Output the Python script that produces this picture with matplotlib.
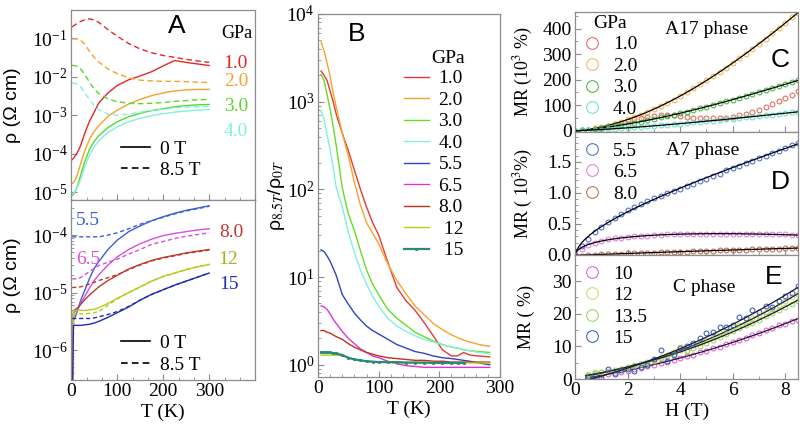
#! /usr/bin/env python3

## Libraries
import numpy as np
import matplotlib
matplotlib.use('Agg')
import matplotlib.pyplot as plt
from matplotlib.lines import Line2D
from matplotlib.ticker import MultipleLocator, AutoMinorLocator, LogLocator

plt.rcParams['font.family'] = ['Liberation Serif', 'DejaVu Serif']
plt.rcParams['mathtext.fontset'] = 'stix'
plt.rcParams['axes.edgecolor'] = '#8c8c8c'
plt.rcParams['axes.linewidth'] = 0.9
for ax_ in ('xtick', 'ytick'):
    plt.rcParams[ax_ + '.direction'] = 'in'
    plt.rcParams[ax_ + '.color'] = '#8c8c8c'
    plt.rcParams[ax_ + '.labelcolor'] = 'black'
    plt.rcParams[ax_ + '.labelsize'] = 14
    plt.rcParams[ax_ + '.major.size'] = 4
    plt.rcParams[ax_ + '.minor.size'] = 2
    plt.rcParams[ax_ + '.major.pad'] = 2.5

#-----------------------------------------------------------------------
## Data
# Panel A : log10 rho (Ohm cm) vs T (K)
T_A = [2, 5, 10, 15, 20, 30, 40, 50, 60, 80, 100, 125, 150, 175, 200, 225, 250, 275, 300]

# low pressure (top): 1.0, 2.0, 3.0, 4.0 GPa
rA_10_0T  = [-4.15, -4.12, -4.03, -3.93, -3.80, -3.45, -3.15, -2.92, -2.68, -2.42, -2.23, -2.08, -1.98, -1.87, -1.72, -1.58, -1.63, -1.67, -1.71]
rA_10_8T  = [-0.71, -0.68, -0.64, -0.60, -0.57, -0.52, -0.50, -0.53, -0.59, -0.78, -0.95, -1.14, -1.28, -1.38, -1.45, -1.50, -1.55, -1.59, -1.63]
rA_20_0T  = [-4.77, -4.75, -4.65, -4.48, -4.28, -3.90, -3.62, -3.42, -3.27, -3.03, -2.87, -2.71, -2.59, -2.49, -2.42, -2.37, -2.34, -2.33, -2.33]
rA_20_8T  = [-1.02, -1.02, -1.02, -1.03, -1.05, -1.16, -1.35, -1.50, -1.62, -1.80, -1.92, -2.03, -2.09, -2.11, -2.12, -2.12, -2.13, -2.14, -2.15]
rA_30_0T  = [-5.08, -5.05, -4.95, -4.78, -4.58, -4.18, -3.88, -3.68, -3.53, -3.32, -3.17, -3.04, -2.95, -2.88, -2.83, -2.78, -2.75, -2.73, -2.72]
rA_30_8T  = [-1.70, -1.71, -1.72, -1.75, -1.79, -1.95, -2.15, -2.32, -2.44, -2.58, -2.65, -2.69, -2.70, -2.69, -2.67, -2.64, -2.62, -2.60, -2.59]
rA_40_0T  = [-5.04, -5.02, -4.95, -4.82, -4.68, -4.32, -4.02, -3.82, -3.66, -3.45, -3.30, -3.17, -3.08, -3.01, -2.96, -2.92, -2.89, -2.87, -2.85]
rA_40_8T  = [-2.17, -2.17, -2.18, -2.21, -2.26, -2.42, -2.60, -2.75, -2.86, -2.97, -3.00, -2.97, -2.92, -2.88, -2.84, -2.81, -2.79, -2.78, -2.77]

# high pressure (bottom): 5.5, 6.5, 8.0, 12, 15 GPa
rA_55_0T  = [-7, -5.48, -5.40, -5.28, -5.15, -4.95, -4.75, -4.58, -4.46, -4.25, -4.09, -3.94, -3.84, -3.75, -3.68, -3.62, -3.57, -3.53, -3.49]
rA_55_8T  = [-4.03, -4.03, -4.03, -4.03, -4.03, -4.03, -4.03, -4.03, -4.03, -4.00, -3.96, -3.89, -3.81, -3.75, -3.69, -3.63, -3.58, -3.54, -3.50]
rA_65_0T  = [-7, -5.35, -5.32, -5.27, -5.20, -5.06, -4.92, -4.79, -4.69, -4.52, -4.38, -4.25, -4.15, -4.07, -4.01, -3.97, -3.94, -3.91, -3.89]
rA_65_8T  = [-4.76, -4.76, -4.76, -4.75, -4.74, -4.69, -4.63, -4.58, -4.53, -4.47, -4.42, -4.33, -4.25, -4.16, -4.11, -4.06, -4.02, -3.99, -3.96]
rA_80_0T  = [-7, -5.31, -5.29, -5.26, -5.21, -5.12, -5.04, -4.97, -4.90, -4.79, -4.70, -4.59, -4.51, -4.44, -4.39, -4.35, -4.31, -4.28, -4.25]
rA_80_8T  = [-4.91, -4.91, -4.91, -4.91, -4.90, -4.88, -4.85, -4.82, -4.79, -4.74, -4.69, -4.60, -4.52, -4.45, -4.40, -4.36, -4.32, -4.29, -4.26]
rA_12_0T  = [-7, -5.31, -5.31, -5.31, -5.31, -5.31, -5.30, -5.29, -5.26, -5.19, -5.10, -5.00, -4.90, -4.80, -4.72, -4.66, -4.60, -4.55, -4.51]
rA_12_8T  = [-5.37, -5.37, -5.37, -5.37, -5.37, -5.37, -5.36, -5.35, -5.33, -5.22, -5.11, -5.00, -4.90, -4.80, -4.72, -4.66, -4.60, -4.55, -4.51]
rA_15_0T  = [-7, -5.57, -5.57, -5.57, -5.57, -5.56, -5.55, -5.53, -5.50, -5.43, -5.35, -5.25, -5.13, -5.03, -4.95, -4.87, -4.80, -4.73, -4.66]
rA_15_8T  = [-5.45, -5.45, -5.45, -5.45, -5.45, -5.45, -5.45, -5.44, -5.42, -5.38, -5.33, -5.24, -5.13, -5.03, -4.95, -4.87, -4.80, -4.73, -4.66]

# Panel B : log10 (rho_8.5T / rho_0T) vs T
T_B = [5, 10, 15, 20, 25, 30, 40, 50, 60, 70, 80, 90, 100, 115, 130, 145, 160, 175, 190, 205, 220, 230, 240, 250, 265, 283]
pB_labels = ['1.0', '2.0', '3.0', '4.0', '5.5', '6.5', '8.0', ' 12', ' 15']
pB_colors = ['#e53935', '#f5a32a', '#66dd22', '#80f0e0', '#2a44c8', '#dd33dd', '#c0301c', '#b8c81c', '#2a8a78']
rB_10 = [3.35, 3.30, 3.24, 3.12, 3.00, 2.86, 2.64, 2.44, 2.22, 2.00, 1.80, 1.62, 1.48, 1.17, 0.88, 0.73, 0.62, 0.48, 0.33, 0.17, 0.10, 0.10, 0.14, 0.11, 0.10, 0.09]
rB_20 = [3.68, 3.58, 3.44, 3.29, 3.10, 2.94, 2.64, 2.38, 2.08, 1.82, 1.62, 1.50, 1.38, 1.15, 0.96, 0.81, 0.67, 0.57, 0.47, 0.40, 0.34, 0.31, 0.28, 0.26, 0.23, 0.21]
rB_30 = [3.31, 3.24, 3.08, 2.91, 2.72, 2.50, 2.02, 1.72, 1.53, 1.30, 1.08, 0.92, 0.80, 0.63, 0.53, 0.45, 0.37, 0.32, 0.27, 0.23, 0.20, 0.19, 0.17, 0.16, 0.15, 0.14]
rB_40 = [2.90, 2.80, 2.62, 2.45, 2.25, 2.02, 1.80, 1.51, 1.28, 1.08, 0.92, 0.78, 0.67, 0.53, 0.44, 0.38, 0.33, 0.29, 0.26, 0.23, 0.20, 0.19, 0.17, 0.16, 0.14, 0.12]
rB_55 = [1.31, 1.29, 1.24, 1.18, 1.10, 1.02, 0.80, 0.69, 0.59, 0.51, 0.44, 0.39, 0.35, 0.29, 0.23, 0.19, 0.15, 0.13, 0.10, 0.08, 0.07, 0.06, 0.05, 0.04, 0.02, 0.0]
rB_65 = [0.67, 0.66, 0.63, 0.58, 0.52, 0.47, 0.38, 0.30, 0.24, 0.18, 0.14, 0.10, 0.08, 0.04, 0.01, -0.01, -0.02, -0.03, -0.03, -0.03, -0.03, -0.03, -0.03, -0.03, -0.03, -0.03]
rB_80 = [0.39, 0.39, 0.37, 0.36, 0.34, 0.32, 0.29, 0.24, 0.20, 0.17, 0.14, 0.12, 0.10, 0.08, 0.07, 0.06, 0.05, 0.05, 0.04, 0.04, 0.03, 0.03, 0.03, 0.03, 0.03, 0.03]
rB_12 = [0.11, 0.11, 0.11, 0.11, 0.11, 0.11, 0.10, 0.08, 0.06, 0.05, 0.04, 0.035, 0.03, 0.025, 0.02, 0.02, 0.02, 0.02, 0.02, 0.02, 0.02, 0.02, 0.02, 0.02, 0.02, 0.02]
rB_15 = [0.14, 0.14, 0.14, 0.14, 0.13, 0.13, 0.11, 0.08, 0.06, 0.05, 0.04, 0.035, 0.03, 0.03, 0.03, 0.025, 0.025, 0.025, 0.02, 0.02, 0.02, 0.02, 0.02]

# Panel C : MR (10^3 %) vs H (T), A17 phase
H_C = np.arange(0, 8.51, 0.25)
mC_10 = [0, 1, 3, 7, 12, 18, 25, 31, 38, 44, 50, 55, 58, 61, 62, 60, 57, 53, 51, 49, 48, 48, 49, 51, 55, 60, 67, 74, 83, 93, 104, 115, 127, 140, 155]
mC_20 = [0, 1.5, 4.5, 9, 14, 20, 27, 35, 44, 53, 63, 74, 85, 97, 109, 122, 137, 151, 166, 181, 197, 213, 230, 247, 265, 283, 302, 321, 340, 360, 381, 402, 423, 444, 462]
mC_30 = [0, 1.4, 3.8, 6.6, 9.9, 13.5, 17.5, 21.7, 26, 31, 36, 41, 46, 52, 57, 63, 69, 75, 81, 88, 94, 101, 108, 115, 122, 129, 136, 143, 151, 158, 166, 174, 182, 190, 198]
mC_40 = [0, 0.8, 1.9, 3.2, 4.6, 6.1, 7.8, 9.5, 11.3, 13.2, 15.1, 17.1, 19.2, 21.3, 23.4, 25.6, 27.9, 30.2, 32.5, 34.9, 37.3, 39.7, 42.2, 44.7, 47.2, 49.8, 52.4, 55.1, 57.7, 60.4, 63.1, 65.9, 68.7, 71.4, 74.3]

# Panel D : MR (10^3 %), A7 phase
H_D = np.arange(0, 8.51, 0.25)
mD_55 = [0, 0.15, 0.26, 0.37, 0.45, 0.53, 0.60, 0.66, 0.72, 0.77, 0.82, 0.87, 0.91, 0.95, 0.99, 1.03, 1.07, 1.11, 1.15, 1.19, 1.23, 1.27, 1.31, 1.36, 1.40, 1.44, 1.48, 1.52, 1.56, 1.60, 1.64, 1.68, 1.72, 1.77, 1.81]
mD_65 = [0.0, 0.10, 0.16, 0.20, 0.23, 0.25, 0.27, 0.28, 0.29, 0.30, 0.31, 0.31, 0.32, 0.32, 0.33, 0.33, 0.33, 0.33, 0.34, 0.34, 0.34, 0.34, 0.34, 0.34, 0.34, 0.34, 0.34, 0.34, 0.34, 0.34, 0.33, 0.33, 0.33, 0.32, 0.32]
mD_80 = [0.0, -0.01, 0.0, 0.005, 0.01, 0.015, 0.02, 0.022, 0.025, 0.03, 0.033, 0.037, 0.04, 0.043, 0.047, 0.05, 0.053, 0.056, 0.06, 0.063, 0.066, 0.07, 0.073, 0.076, 0.08, 0.083, 0.086, 0.09, 0.093, 0.096, 0.1, 0.103, 0.106, 0.11, 0.113]

# Panel E : MR (%), C phase
H_E = np.arange(0.5, 8.51, 0.25)
mE_10  = [0.5, 1.0, 1.1, 1.6, 1.8, 2.3, 2.5, 3.1, 3.3, 4.0, 4.2, 4.9, 5.2, 5.9, 6.3, 7.1, 7.4, 8.2, 8.6, 9.5, 9.9, 10.7, 11.2, 12.1, 12.6, 13.5, 14.0, 14.9, 15.5, 16.4, 16.9, 17.7, 18.1]
mE_12  = [1.5, 2.0, 2.2, 2.0, 2.6, 3.0, 3.4, 4.0, 4.5, 5.0, 5.8, 6.6, 7.4, 8.2, 9.8, 9.0, 10.5, 11.0, 12.0, 13.0, 14.0, 14.8, 15.8, 16.5, 17.5, 18.6, 19.5, 20.5, 21.6, 22.6, 23.8, 25.0, 26.0]
mE_135 = [1.2, 1.8, 2.0, 2.4, 2.8, 3.0, 3.6, 4.2, 4.6, 5.2, 5.6, 6.4, 7.0, 7.8, 8.8, 8.6, 9.4, 10.0, 11.0, 12.0, 13.0, 13.8, 14.6, 15.5, 16.4, 17.3, 18.2, 19.2, 20.2, 21.0, 22.0, 23.0, 24.0]
mE_15  = [0.7, 1.2, 0.2, 3.0, 1.6, 2.8, 3.0, 2.4, 3.6, 4.4, 6.0, 9.0, 5.5, 7.5, 9.5, 10.0, 11.0, 12.5, 14.0, 14.5, 16.0, 15.8, 16.5, 19.0, 18.8, 21.0, 20.5, 22.5, 22.0, 24.0, 25.5, 26.5, 28.5]

#-----------------------------------------------------------------------
## Figure
fig = plt.figure(figsize=(8, 4.37), dpi=100)
axA1 = fig.add_axes([0.089, 0.5423, 0.23, 0.4348])
axA2 = fig.add_axes([0.089, 0.1304, 0.23, 0.4119])
axB  = fig.add_axes([0.3975, 0.1373, 0.2275, 0.8307])
axC  = fig.add_axes([0.719, 0.698, 0.279, 0.2746])
axD  = fig.add_axes([0.719, 0.4165, 0.279, 0.2815])
axE  = fig.add_axes([0.719, 0.1327, 0.279, 0.2838])

sans = ['Liberation Sans', 'DejaVu Sans']
dash = (0, (4, 2.5))
fdash = (0, (3, 2))
lw = 1.0

for ax in (axA1, axA2, axB, axC, axD, axE):
    ax.tick_params(which='both', top=False, right=False)

# --- Panel A top
for vals0, vals8, col in [(rA_10_0T, rA_10_8T, '#e02828'), (rA_20_0T, rA_20_8T, '#f5a32a'),
                          (rA_30_0T, rA_30_8T, '#5ad82a'), (rA_40_0T, rA_40_8T, '#80f0e0')]:
    axA1.plot(T_A, 10**np.array(vals0), color=col, lw=lw)
    axA1.plot(T_A, 10**np.array(vals8), color=col, lw=lw, ls=dash)
axA1.set_yscale('log')
axA1.set_xlim(0, 400)
axA1.set_ylim(10**-5.2, 10**-0.27)
axA1.yaxis.set_major_locator(LogLocator(base=10, numticks=20))
axA1.xaxis.set_major_locator(MultipleLocator(100))
axA1.xaxis.set_minor_locator(AutoMinorLocator(3))
axA1.set_xticklabels([])
axA1.set_ylabel('ρ (Ω cm)', family=sans, fontsize=14)
axA1.yaxis.set_label_coords(-0.275, 0.5)
axA1.text(0.576, 0.915, 'A', transform=axA1.transAxes, family=sans, fontsize=19, ha='center', va='center')
axA1.text(0.90, 0.878, 'GPa', transform=axA1.transAxes, fontsize=13, ha='center', va='center')
for lab, col, fy in [('1.0', '#e02828', 0.718), ('2.0', '#f5a32a', 0.624),
                     ('3.0', '#5ad82a', 0.49), ('4.0', '#80f0e0', 0.363)]:
    axA1.text(0.895, fy, lab, transform=axA1.transAxes, fontsize=14, color=col, ha='center', va='center')
hnd = [Line2D([], [], color='k', lw=1.2), Line2D([], [], color='k', lw=1.2, ls=dash)]
axA1.legend(hnd, ['0 T', '8.5 T'], loc='upper left', bbox_to_anchor=(0.27, 0.315), frameon=False,
            fontsize=14, handlelength=1.5, handletextpad=0.5, labelspacing=0.2, borderpad=0, borderaxespad=0)

# --- Panel A bottom
for vals0, vals8, col in [(rA_55_0T, rA_55_8T, '#3a5fd9'), (rA_65_0T, rA_65_8T, '#d94fd9'),
                          (rA_80_0T, rA_80_8T, '#c0392b'), (rA_12_0T, rA_12_8T, '#b5cc18'),
                          (rA_15_0T, rA_15_8T, '#1f2fb0')]:
    axA2.plot(T_A, 10**np.array(vals0), color=col, lw=lw)
    axA2.plot(T_A, 10**np.array(vals8), color=col, lw=lw, ls=fdash)
axA2.set_yscale('log')
axA2.set_xlim(0, 400)
axA2.set_ylim(10**-6.52, 10**-3.39)
axA2.yaxis.set_major_locator(LogLocator(base=10, numticks=20))
axA2.set_xticks([0, 100, 200, 300])
axA2.xaxis.set_minor_locator(AutoMinorLocator(3))
axA2.set_xlabel('T (K)', fontsize=14, labelpad=2)
axA2.set_ylabel('ρ (Ω cm)', family=sans, fontsize=14)
axA2.yaxis.set_label_coords(-0.275, 0.58)
for lab, col, fx, fy in [('5.5', '#3a5fd9', 0.09, 0.885), ('6.5', '#d94fd9', 0.09, 0.667),
                         ('8.0', '#c0392b', 0.87, 0.817), ('12', '#a0b418', 0.855, 0.667),
                         ('15', '#1f2fb0', 0.855, 0.528)]:
    axA2.text(fx, fy, lab, transform=axA2.transAxes, fontsize=14, color=col, ha='center', va='center')
axA2.legend(hnd, ['0 T', '8.5 T'], loc='upper left', bbox_to_anchor=(0.27, 0.253), frameon=False,
            fontsize=14, handlelength=1.5, handletextpad=0.5, labelspacing=0.2, borderpad=0, borderaxespad=0)

# --- Panel B
for vals, col, lab in zip([rB_10, rB_20, rB_30, rB_40, rB_55, rB_65, rB_80, rB_12, rB_15],
                          pB_colors, pB_labels):
    tt = T_B[:len(vals)]
    if lab == ' 15':
        axB.plot(tt, 10**np.array(vals), color=col, lw=1.6, marker='.', ms=2.5, label=lab)
    else:
        axB.plot(tt, 10**np.array(vals), color=col, lw=lw, label=lab)
axB.set_yscale('log')
axB.set_xlim(0, 300)
axB.set_ylim(10**-0.14, 1e4)
axB.yaxis.set_major_locator(LogLocator(base=10, numticks=20))
axB.xaxis.set_major_locator(MultipleLocator(100))
axB.xaxis.set_minor_locator(AutoMinorLocator(5))
axB.set_xlabel('T (K)', fontsize=14, labelpad=2)
axB.set_ylabel('ρ$_{8.5T}$/ρ$_{0T}$', family=sans, fontsize=14)
axB.yaxis.set_label_coords(-0.17, 0.5)
axB.text(0.21, 0.945, 'B', transform=axB.transAxes, family=sans, fontsize=19, ha='center', va='center')
axB.text(0.714, 0.878, 'GPa', transform=axB.transAxes, fontsize=14, ha='center', va='center')
axB.legend(loc='upper left', bbox_to_anchor=(0.47, 0.846), frameon=False,
           fontsize=14, handlelength=1.3, handletextpad=0.5,
           labelspacing=0.2, borderpad=0, borderaxespad=0)

# --- Panel C
Hf = np.linspace(0, 8.5, 120)
for vals, col, lab, fit in [(mC_10, '#e06050', '1.0', False), (mC_20, '#f0b040', '2.0', True),
                            (mC_30, '#38b038', '3.0', True), (mC_40, '#60e0c8', '4.0', True)]:
    axC.plot(H_C, vals, 'o', mfc='none', mec=col, ms=3.5, mew=0.7, label=lab)
    if fit:
        p = np.polyfit(H_C, vals, 3)
        axC.plot(Hf, np.polyval(p, Hf), color='k', lw=0.9)
axC.set_xlim(0, 8.5)
axC.set_ylim(-5, 465)
axC.xaxis.set_major_locator(MultipleLocator(2))
axC.xaxis.set_minor_locator(MultipleLocator(1))
axC.yaxis.set_major_locator(MultipleLocator(100))
axC.yaxis.set_minor_locator(MultipleLocator(50))
axC.set_xticklabels([])
axC.set_ylabel('MR (10$^3$ %)', fontsize=13)
axC.yaxis.set_label_coords(-0.18, 0.5)
axC.text(0.59, 0.85, 'A17 phase', transform=axC.transAxes, fontsize=14, ha='center', va='center')
axC.text(0.92, 0.6, 'C', transform=axC.transAxes, family=sans, fontsize=19, ha='center', va='center')
axC.legend(loc='upper left', bbox_to_anchor=(0.03, 0.975), frameon=False, title='GPa',
           fontsize=14, title_fontsize=14, markerscale=2.4, handlelength=1.0, handletextpad=0.6,
           labelspacing=0.2, borderpad=0, borderaxespad=0)

# --- Panel D
for vals, col, lab in [(mD_55, '#4060d0', '5.5'), (mD_65, '#e070e0', '6.5'), (mD_80, '#c06040', '8.0')]:
    axD.plot(H_D, vals, 'o', mfc='none', mec=col, ms=3.5, mew=0.7, label=lab)
    p = np.polyfit(np.sqrt(H_D), vals, 3)
    axD.plot(Hf, np.polyval(p, np.sqrt(Hf)), color='k', lw=0.9)
axD.set_xlim(0, 8.5)
axD.set_ylim(0, 1.98)
axD.xaxis.set_major_locator(MultipleLocator(2))
axD.xaxis.set_minor_locator(MultipleLocator(1))
axD.yaxis.set_major_locator(MultipleLocator(0.5))
axD.yaxis.set_minor_locator(MultipleLocator(0.1))
axD.yaxis.set_major_formatter(plt.FormatStrFormatter('%.1f'))
axD.set_xticklabels([])
axD.set_ylabel('MR ( 10$^3$%)', fontsize=13)
axD.yaxis.set_label_coords(-0.18, 0.5)
axD.text(0.57, 0.85, 'A7 phase', transform=axD.transAxes, fontsize=14, ha='center', va='center')
axD.text(0.92, 0.595, 'D', transform=axD.transAxes, family=sans, fontsize=19, ha='center', va='center')
axD.legend(loc='upper left', bbox_to_anchor=(0.03, 0.917), frameon=False,
           fontsize=14, markerscale=2.4, handlelength=1.0, handletextpad=0.6,
           labelspacing=0.2, borderpad=0, borderaxespad=0)

# --- Panel E
He = np.linspace(0.4, 8.5, 120)
for vals, col, lab in [(mE_10, '#e050d0', '10'), (mE_12, '#c8dc50', '12'),
                       (mE_135, '#98d050', '13.5'), (mE_15, '#3050c0', '15')]:
    axE.plot(H_E, vals, 'o', mfc='none', mec=col, ms=3.5, mew=0.7, label=lab)
    p = np.polyfit(H_E, vals, 2)
    axE.plot(He, np.polyval(p, He), color='#1a1a30', lw=0.9)
axE.set_xlim(0, 8.5)
axE.set_ylim(0, 38)
axE.xaxis.set_major_locator(MultipleLocator(2))
axE.xaxis.set_minor_locator(MultipleLocator(1))
axE.yaxis.set_major_locator(MultipleLocator(10))
axE.yaxis.set_minor_locator(MultipleLocator(5))
axE.set_xlabel('H (T)', fontsize=14, labelpad=2)
axE.set_ylabel('MR ( %)', fontsize=13)
axE.yaxis.set_label_coords(-0.18, 0.5)
axE.text(0.58, 0.74, 'C phase', transform=axE.transAxes, fontsize=14, ha='center', va='center')
axE.text(0.89, 0.82, 'E', transform=axE.transAxes, family=sans, fontsize=19, ha='center', va='center')
axE.legend(loc='upper left', bbox_to_anchor=(0.03, 0.92), frameon=False,
           fontsize=14, markerscale=2.4, handlelength=1.0, handletextpad=0.6,
           labelspacing=0.2, borderpad=0, borderaxespad=0)

plt.savefig('out.png', dpi=100)
